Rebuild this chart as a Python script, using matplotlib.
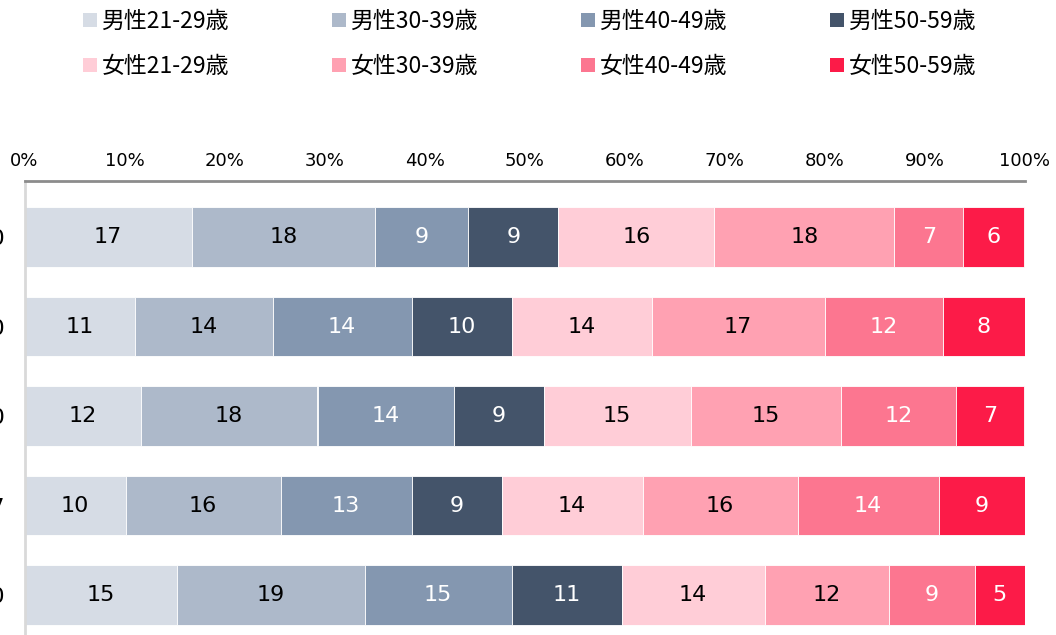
import matplotlib
matplotlib.use('Agg')
import matplotlib.pyplot as plt
from matplotlib.patches import Patch
from matplotlib.ticker import FuncFormatter

# rows (top to bottom); only the last character shows in the original crop
years = ['2020', '2010', '2000', '1997', '1990']

groups = ['男性21-29歳', '男性30-39歳', '男性40-49歳', '男性50-59歳',
          '女性21-29歳', '女性30-39歳', '女性40-49歳', '女性50-59歳']

# share (%) of each group, one list per group, in row order
m21 = [16.7, 11.0, 11.6, 10.1, 15.2]
m30 = [18.4, 13.8, 17.7, 15.5, 18.8]
m40 = [9.3, 13.9, 13.6, 13.1, 14.7]
m50 = [9.0, 10.0, 9.0, 9.0, 11.0]
f21 = [15.6, 14.0, 14.7, 14.1, 14.3]
f30 = [18.0, 17.3, 15.0, 15.5, 12.4]
f40 = [6.9, 11.8, 11.6, 14.1, 8.6]
f50 = [6.1, 8.2, 6.8, 8.6, 5.0]
series = [m21, m30, m40, m50, f21, f30, f40, f50]

colors = ['#D6DCE5', '#ADB9CA', '#8497B0', '#44546A',
          '#FFCDD7', '#FFA1B2', '#FC7690', '#FC1B48']
text_colors = ['black', 'black', 'white', 'white',
               'black', 'black', 'white', 'white']

fig = plt.figure(figsize=(10.56, 6.35), dpi=100)
ax = fig.add_axes([24.5 / 1056, -0.0247, 1000 / 1056, 0.7389])

ypos = list(range(len(years)))
left = [0.0] * len(years)
for vals, c, tc in zip(series, colors, text_colors):
    bars = ax.barh(ypos, vals, left=left, height=0.664, color=c,
                   edgecolor='white', linewidth=0.6)
    for b, v in zip(bars, vals):
        ax.text(b.get_x() + b.get_width() / 2, b.get_y() + b.get_height() / 2,
                f'{v:.0f}', ha='center', va='center', color=tc,
                fontsize=16, family='DejaVu Sans')
    left = [l + v for l, v in zip(left, vals)]

ax.set_xlim(0, 100)
ax.set_ylim(4.62, -0.62)
ax.set_xticks(range(0, 101, 10))
ax.xaxis.set_major_formatter(FuncFormatter(lambda x, p: f'{x:.0f}%'))
ax.xaxis.tick_top()
ax.tick_params(axis='x', length=0, pad=8, labelsize=13)
for lab in ax.get_xticklabels():
    lab.set_family(['Liberation Sans Narrow', 'DejaVu Sans'])
ax.set_yticks(ypos)
ax.set_yticklabels(years, fontsize=16, family='DejaVu Sans')
ax.tick_params(axis='y', length=0, pad=14)

for s in ['right', 'bottom']:
    ax.spines[s].set_visible(False)
ax.spines['top'].set_color('#8c8c8c')
ax.spines['top'].set_linewidth(2)
ax.spines['left'].set_color('#d9d9d9')
ax.spines['left'].set_linewidth(2)

# legend: male row on top, female row below -> interleave for column-major fill
handles = [Patch(facecolor=c, edgecolor='none') for c in colors]
order = [0, 4, 1, 5, 2, 6, 3, 7]
fig.legend([handles[i] for i in order], [groups[i] for i in order],
           ncol=4, loc='upper left', bbox_to_anchor=(74 / 1056, 1 - 1 / 635),
           frameon=False, prop={'family': ['Noto Sans CJK JP', 'DejaVu Sans'], 'size': 16.5},
           handlelength=0.6, handleheight=0.6, handletextpad=0.2,
           columnspacing=4.5, labelspacing=0.95, borderaxespad=0)

fig.savefig('out.png', dpi=100)
